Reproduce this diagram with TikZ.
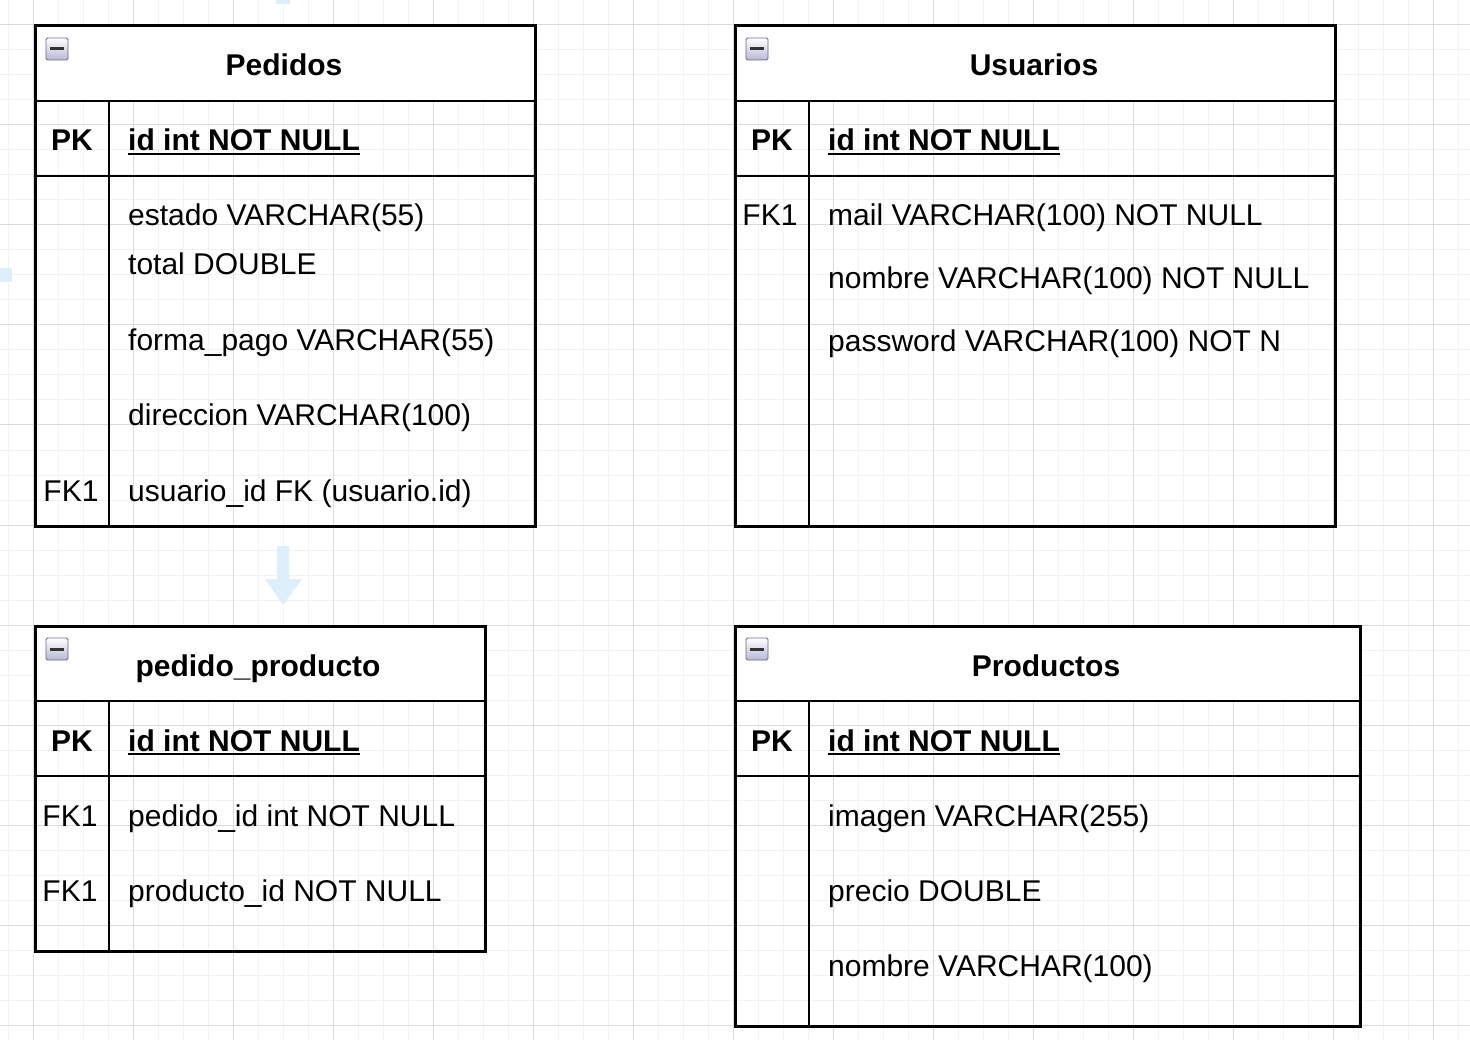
\documentclass[tikz,border=0pt]{standalone}
\usepackage{fontspec}
\setmainfont{Liberation Sans}
\usepackage{tikz}
\usetikzlibrary{positioning, arrows.meta}

\definecolor{gridminor}{HTML}{F2F2F2}
\definecolor{gridmajor}{HTML}{DADADA}
\definecolor{hoverblue}{HTML}{DCEFFA}

\begin{document}
\begin{tikzpicture}[
    x=1pt, y=-1pt,
    frame/.style={draw=black, line width=3pt},
    rowline/.style={draw=black, line width=2.6pt},
    title/.style={font=\fontsize{30}{34}\selectfont\bfseries, anchor=base, inner sep=0pt},
    keytag/.style={font=\fontsize{30}{34}\selectfont, anchor=base, inner sep=0pt},
    pkfield/.style={font=\fontsize{30}{34}\selectfont\bfseries, anchor=base west, inner sep=0pt},
    field/.style={font=\fontsize{30}{34}\selectfont, anchor=base west, inner sep=0pt}
]
    \useasboundingbox (0,0) rectangle (1470,1040);
    \fill[white] (0,0) rectangle (1470,1040);

    % Grid
    \foreach \gx in {8,33,...,1460}
        \draw[gridminor, line width=1pt] (\gx,0) -- (\gx,1040);
    \foreach \gy in {0,25,...,1040}
        \draw[gridminor, line width=1pt] (0,\gy) -- (1470,\gy);
    \foreach \gx in {33,133,...,1460}
        \draw[gridmajor, line width=1pt] (\gx,0) -- (\gx,1040);
    \foreach \gy in {25,125,...,1040}
        \draw[gridmajor, line width=1pt] (0,\gy) -- (1470,\gy);

    % Hover arrows
    \fill[hoverblue] (277,546) -- (289,546) -- (289,579) -- (302,579)
        -- (283,605) -- (265,579) -- (277,579) -- cycle;
    \fill[hoverblue] (276,0) rectangle (290,4);
    \fill[hoverblue] (0,268) rectangle (12,282);

    % Table frames
    \foreach \l/\r/\t/\b in {35/535/26/526, 735/1335/26/526,
                              35/485/626/951, 735/1360/626/1026} {
        \fill[white] (\l,\t) rectangle (\r,\t+75);
        \draw[rowline] (\l,\t+75) -- (\r,\t+75);
        \draw[rowline] (\l,\t+150) -- (\r,\t+150);
        \draw[rowline] (\l+74,\t+75) -- (\l+74,\b);
        \draw[frame] (\l,\t) rectangle (\r,\b);
        % collapse icon
        \draw[draw=gray!80!blue, line width=0.8pt, rounded corners=1.5pt,
              top color=white, bottom color=blue!25!gray!45]
            (\l+11,\t+12) rectangle (\l+33,\t+34);
        \fill[black!80] (\l+15,\t+21.5) rectangle (\l+29,\t+24.5);
    }

    % Pedidos
    \node[title] (pedTitle) at (284,76) {Pedidos};
    \node[title] (pedPK) at (72,151) {PK};
    \node[pkfield] (pedId) at (128,151) {id int NOT NULL};
    \node[field] (pedEstado) at (128,226) {estado VARCHAR(55)};
    \node[field] (pedTotal) at (128,275) {total DOUBLE};
    \node[field] (pedForma) at (128,351) {forma\_pago VARCHAR(55)};
    \node[field] (pedDireccion) at (128,426) {direccion VARCHAR(100)};
    \node[keytag] (pedFK) at (71,501) {FK1};
    \node[field] (pedUsuario) at (128,501) {usuario\_id FK (usuario.id)};

    % Usuarios
    \node[title] (usuTitle) at (1034,76) {Usuarios};
    \node[title] (usuPK) at (772,151) {PK};
    \node[pkfield] (usuId) at (828,151) {id int NOT NULL};
    \node[keytag] (usuFK) at (770,226) {FK1};
    \node[field] (usuMail) at (828,226) {mail VARCHAR(100) NOT NULL};
    \node[field] (usuNombre) at (828,289) {nombre VARCHAR(100) NOT NULL};
    \node[field] (usuPassword) at (828,352) {password VARCHAR(100) NOT N};

    % pedido_producto
    \node[title] (ppTitle) at (258,676) {pedido\_producto};
    \node[title] (ppPK) at (72,751) {PK};
    \node[pkfield] (ppId) at (128,751) {id int NOT NULL};
    \node[keytag] (ppFK1) at (70,826) {FK1};
    \node[field] (ppPedido) at (128,826) {pedido\_id int NOT NULL};
    \node[keytag] (ppFK2) at (70,901) {FK1};
    \node[field] (ppProducto) at (128,901) {producto\_id NOT NULL};

    % Productos
    \node[title] (proTitle) at (1046,676) {Productos};
    \node[title] (proPK) at (772,751) {PK};
    \node[pkfield] (proId) at (828,751) {id int NOT NULL};
    \node[field] (proImagen) at (828,826) {imagen VARCHAR(255)};
    \node[field] (proPrecio) at (828,901) {precio DOUBLE};
    \node[field] (proNombre) at (828,976) {nombre VARCHAR(100)};

    % Underlined primary keys
    \foreach \n in {pedId, usuId, ppId, proId}
        \draw[line width=2pt] ([yshift=-3pt]\n.base west) -- ([yshift=-3pt]\n.base east);
\end{tikzpicture}
\end{document}
